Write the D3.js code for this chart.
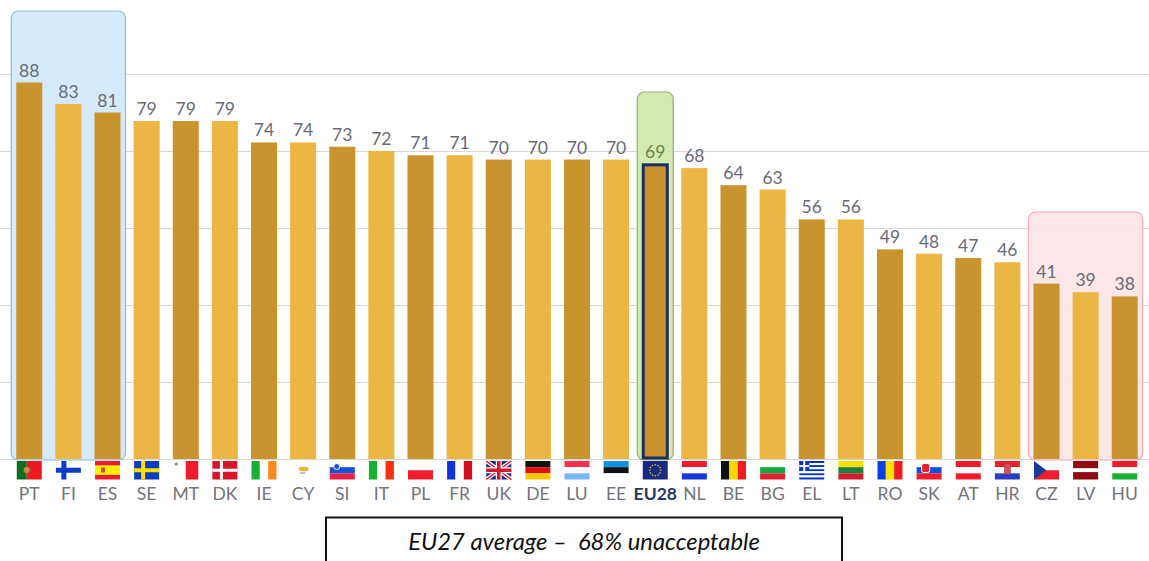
<!DOCTYPE html>
<html lang="en">

<head>
  <meta charset="UTF-8" />
  <title>EU27 average</title>
  <style>
    body {
      margin: 0;
      background: #fff;
    }

    svg {
      display: block;
    }

    text {
      font-family: Lato, sans-serif;
    }
  </style>
</head>

<body>
  <div id="container"></div>
  <script src="https://cdn.jsdelivr.net/npm/d3@7"></script>
  <script>
    const countries = ["PT", "FI", "ES", "SE", "MT", "DK", "IE", "CY", "SI", "IT", "PL", "FR", "UK", "DE", "LU", "EE", "EU28", "NL", "BE", "BG", "EL", "LT", "RO", "SK", "AT", "HR", "CZ", "LV", "HU"];
    const values = [88, 83, 81, 79, 79, 79, 74, 74, 73, 72, 71, 71, 70, 70, 70, 70, 69, 68, 64, 63, 56, 56, 49, 48, 47, 46, 41, 39, 38];
    const gridTicks = [0, 18, 36, 54, 72, 90];
    const caption = "EU27 average –  68% unacceptable";
    const topGroup = ["PT", "FI", "ES"];
    const bottomGroup = ["CZ", "LV", "HU"];

    const _width = 1149, _height = 561;
    const margin = { left: 10, right: 5, top: 74, bottom: 102 };
    const flagW = 25, flagH = 18.5;

    const svg = d3.select("#container").append("svg")
      .attr("width", _width).attr("height", _height);

    const x = d3.scaleBand().domain(countries)
      .range([margin.left, _width - margin.right])
      .paddingInner(0.335).paddingOuter(0.16);
    const y = d3.scaleLinear().domain([0, 90])
      .range([_height - margin.bottom, margin.top]);

    // grid lines
    const grid = svg.append("g")
      .attr("transform", `translate(${_width}, 0)`)
      .call(d3.axisLeft(y).tickValues(gridTicks).tickSize(_width).tickFormat(""));
    grid.select(".domain").remove();
    grid.selectAll("line").attr("stroke", "#d8d8d8").attr("stroke-width", 1.2);

    // highlight boxes, behind the bars
    function box(first, last, top, fill, stroke) {
      const pad = 5;
      svg.append("rect")
        .attr("x", x(first) - pad)
        .attr("y", top)
        .attr("width", x(last) + x.bandwidth() + pad * 2 - x(first))
        .attr("height", y(0) + 1 - top)
        .attr("rx", 7)
        .attr("fill", fill)
        .attr("fill-opacity", 0.92)
        .attr("stroke", stroke)
        .attr("stroke-width", 1.2);
    }
    box(topGroup[0], topGroup[2], 11, "#d4e8f9", "#8ebdd2");
    box("EU28", "EU28", 92, "#cfe9a9", "#93ae7c");
    box(bottomGroup[0], bottomGroup[2], 212, "#fbe5e6", "#f6a9b9");

    // bars
    svg.append("g").selectAll("rect")
      .data(countries)
      .enter()
      .append("rect")
      .attr("x", d => x(d))
      .attr("y", (d, i) => y(values[i]))
      .attr("width", x.bandwidth())
      .attr("height", (d, i) => y(0) - y(values[i]))
      .attr("fill", (d, i) => i % 2 === 0 ? "#c9932d" : "#ecb645");

    // EU28 outline
    svg.append("rect")
      .attr("x", x("EU28") + 1)
      .attr("y", y(values[countries.indexOf("EU28")]) + 1)
      .attr("width", x.bandwidth() - 2)
      .attr("height", y(0) - y(values[countries.indexOf("EU28")]) - 2)
      .attr("fill", "none")
      .attr("stroke", "#1c2f5c")
      .attr("stroke-width", 3);

    // value labels
    svg.append("g").selectAll("text")
      .data(countries)
      .enter()
      .append("text")
      .attr("x", d => x(d) + x.bandwidth() / 2)
      .attr("y", (d, i) => y(values[i]) - 6)
      .attr("text-anchor", "middle")
      .attr("font-size", 17.5)
      .attr("fill", d => d === "EU28" ? "#72824f" : "#696a75")
      .text((d, i) => values[i]);

    // country labels
    const axis = svg.append("g")
      .attr("transform", `translate(0, ${y(0)})`)
      .call(d3.axisBottom(x).tickSize(0).tickPadding(29));
    axis.select(".domain").remove();
    axis.selectAll("text")
      .attr("font-family", "Lato, sans-serif")
      .attr("font-size", 17.5)
      .attr("fill", d => d === "EU28" ? "#1f3864" : "#73737c")
      .attr("font-weight", d => d === "EU28" ? 700 : 400);

    // flags: stripes first, then the few extra shapes
    const red = "#ef1c2c", blue = "#0a35c4", white = "#fff", green = "#18b030";
    const hStripes = {
      ES: [[red, 1], ["#ffee00", 2], [red, 1]],
      SI: [[white, 1], ["#1550d8", 1], ["#e8204a", 1]],
      PL: [[white, 1], [red, 1]],
      DE: [["#111", 1], ["#e01010", 1], ["#fcc800", 1]],
      LU: [["#f8304c", 1], [white, 1], ["#78b8f8", 1]],
      EE: [["#1090e0", 1], ["#111", 1], [white, 1]],
      NL: [[red, 1], [white, 1], ["#1438d8", 1]],
      BG: [[white, 1], ["#10a840", 1], ["#e0202c", 1]],
      LT: [["#fce000", 1], ["#1a8040", 1], ["#d01c2c", 1]],
      SK: [[white, 1], ["#1050e0", 1], ["#ee1c30", 1]],
      AT: [[red, 1], [white, 1], [red, 1]],
      HR: [[red, 1], [white, 1], ["#2a3cc0", 1]],
      CZ: [[white, 1], [red, 1]],
      LV: [["#8e0a14", 2], [white, 1], ["#8e0a14", 2]],
      HU: [[red, 1], [white, 1], [green, 1]],
      EL: [[blue, 1], [white, 1], [blue, 1], [white, 1], [blue, 1], [white, 1], [blue, 1], [white, 1], [blue, 1]],
      FI: [[white, 1]],
      SE: [["#0a3cc0", 1]],
      DK: [["#d81428", 1]],
      UK: [["#1c2c80", 1]],
      EU28: [["#1a2a80", 1]]
    };
    const vStripes = {
      PT: [["#0c6e22", 2], ["#ee1820", 3]],
      MT: [[white, 1], [red, 1]],
      IE: [[green, 1], [white, 1], ["#fb8a1c", 1]],
      CY: [[white, 1]],
      IT: [[green, 1], [white, 1], ["#f43010", 1]],
      FR: [["#1030d8", 1], [white, 1], ["#d0101c", 1]],
      BE: [["#111", 1], ["#fcd800", 1], ["#f01c20", 1]],
      RO: [["#0a40e0", 1], ["#fce000", 1], ["#ee1c20", 1]]
    };

    function drawCross(g, color, thick, cx) {
      g.append("rect").attr("x", 0).attr("y", (flagH - thick) / 2).attr("width", flagW).attr("height", thick).attr("fill", color);
      g.append("rect").attr("x", cx - thick / 2).attr("y", 0).attr("width", thick).attr("height", flagH).attr("fill", color);
    }

    const flagExtras = {
      PT: g => g.append("circle").attr("cx", 10).attr("cy", 9).attr("r", 3.5).attr("fill", "#c89048").attr("stroke", "#8a5030"),
      FI: g => drawCross(g, "#0a3cc8", 5, 8),
      ES: g => g.append("rect").attr("x", 6).attr("y", 6.5).attr("width", 4).attr("height", 5).attr("fill", "#c8502c"),
      SE: g => drawCross(g, "#fce000", 4, 9),
      MT: g => g.append("circle").attr("cx", 3).attr("cy", 3).attr("r", 1.6).attr("fill", "#888"),
      DK: g => drawCross(g, white, 3, 9),
      CY: g => {
        g.append("ellipse").attr("cx", 13).attr("cy", 8).attr("rx", 5).attr("ry", 2.2).attr("fill", "#f0b040");
        g.append("ellipse").attr("cx", 12).attr("cy", 12).attr("rx", 3).attr("ry", 1).attr("fill", "#a8c880");
      },
      SI: g => g.append("circle").attr("cx", 7).attr("cy", 5.5).attr("r", 3).attr("fill", "#2050d0").attr("stroke", white),
      SK: g => g.append("rect").attr("x", 5).attr("y", 2.5).attr("width", 8).attr("height", 9).attr("rx", 2).attr("fill", "#e8202c").attr("stroke", white),
      HR: g => g.append("rect").attr("x", 9.5).attr("y", 3).attr("width", 6).attr("height", 10).attr("fill", "#d85060").attr("stroke", "#a04050").attr("stroke-width", 0.6),
      CZ: g => g.append("path").attr("d", `M0,0L${flagW / 2},${flagH / 2}L0,${flagH}Z`).attr("fill", "#183c98"),
      EL: g => {
        g.append("rect").attr("width", 10).attr("height", 10).attr("fill", blue);
        g.append("rect").attr("x", 4).attr("width", 2).attr("height", 10).attr("fill", white);
        g.append("rect").attr("y", 4).attr("width", 10).attr("height", 2).attr("fill", white);
      },
      UK: g => {
        const jack = (c, w) => {
          g.append("path").attr("d", `M0,0L${flagW},${flagH}M${flagW},0L0,${flagH}`).attr("stroke", c).attr("stroke-width", w);
        };
        jack(white, 4);
        jack("#d8182c", 1.5);
        drawCross(g, white, 6, flagW / 2);
        drawCross(g, "#d8182c", 3.5, flagW / 2);
      },
      EU28: g => {
        g.selectAll("circle").data(d3.range(12)).enter().append("circle")
          .attr("cx", i => flagW / 2 + 5.5 * Math.cos(i * Math.PI / 6))
          .attr("cy", i => flagH / 2 + 5.5 * Math.sin(i * Math.PI / 6))
          .attr("r", 0.8)
          .attr("fill", "#e8d020");
      }
    };

    function drawStripes(g, stripes, horizontal) {
      const total = d3.sum(stripes, s => s[1]);
      const size = horizontal ? flagH : flagW;
      let pos = 0;
      stripes.forEach(s => {
        const len = size * s[1] / total;
        g.append("rect")
          .attr("x", horizontal ? 0 : pos)
          .attr("y", horizontal ? pos : 0)
          .attr("width", horizontal ? flagW : len)
          .attr("height", horizontal ? len : flagH)
          .attr("fill", s[0]);
        pos += len;
      });
    }

    svg.append("g").selectAll("g")
      .data(countries)
      .enter()
      .append("g")
      .attr("transform", d => `translate(${x(d) + x.bandwidth() / 2 - flagW / 2}, ${y(0) + 2})`)
      .each(function (d) {
        const g = d3.select(this);
        if (hStripes[d]) drawStripes(g, hStripes[d], true);
        if (vStripes[d]) drawStripes(g, vStripes[d], false);
        if (flagExtras[d]) flagExtras[d](g);
      });

    // caption box, cut off by the bottom edge
    svg.append("rect")
      .attr("x", 326).attr("y", 517.5)
      .attr("width", 516).attr("height", 60)
      .attr("fill", "#fff")
      .attr("stroke", "#111")
      .attr("stroke-width", 2);
    svg.append("text")
      .attr("x", 584).attr("y", 550)
      .attr("text-anchor", "middle")
      .attr("font-size", 23.8)
      .attr("font-style", "italic")
      .attr("fill", "#111")
      .style("white-space", "pre")
      .text(caption);
  </script>
</body>

</html>
